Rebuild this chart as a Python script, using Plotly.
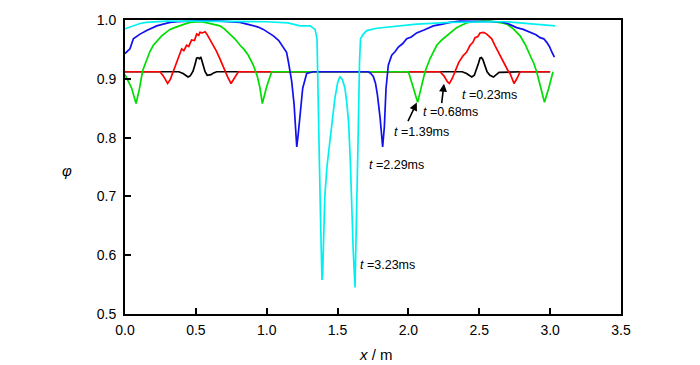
import plotly.graph_objects as go

# ---------------- data ----------------
x_023 = [0.0, 0.38, 0.41, 0.43, 0.445, 0.46, 0.48, 0.495, 0.505, 0.515, 0.525, 0.535, 0.55, 0.565, 0.58, 0.595, 0.607, 0.625, 0.647, 0.80,
         2.38, 2.41, 2.43, 2.447, 2.465, 2.48, 2.495, 2.505, 2.515, 2.525, 2.54, 2.555, 2.575, 2.59, 2.60, 2.62, 2.64, 2.80, 3.0]
phi_023 = [0.912, 0.912, 0.909, 0.905, 0.903, 0.905, 0.913, 0.925, 0.935, 0.936, 0.934, 0.937, 0.925, 0.912, 0.906, 0.906, 0.907, 0.910, 0.912, 0.912,
           0.912, 0.909, 0.905, 0.903, 0.906, 0.915, 0.927, 0.935, 0.936, 0.933, 0.924, 0.912, 0.906, 0.904, 0.903, 0.907, 0.911, 0.912, 0.912]

x_068 = [0.0, 0.247, 0.27, 0.29, 0.301, 0.32, 0.341, 0.36, 0.376, 0.39, 0.40, 0.415, 0.435, 0.45, 0.47, 0.49, 0.506, 0.52, 0.529, 0.545, 0.565, 0.578, 0.588, 0.605, 0.623, 0.645, 0.67, 0.69, 0.706, 0.725, 0.748, 0.77, 0.80,
         2.223, 2.25, 2.275, 2.289, 2.31, 2.329, 2.355, 2.388, 2.41, 2.435, 2.455, 2.47, 2.49, 2.505, 2.53, 2.553, 2.57, 2.588, 2.61, 2.635, 2.66, 2.682, 2.70, 2.717, 2.745, 2.765, 2.788, 3.0]
phi_068 = [0.912, 0.912, 0.905, 0.895, 0.892, 0.899, 0.913, 0.925, 0.934, 0.942, 0.951, 0.948, 0.957, 0.955, 0.966, 0.965, 0.976, 0.974, 0.979, 0.978, 0.980, 0.976, 0.972, 0.964, 0.957, 0.947, 0.934, 0.922, 0.913, 0.903, 0.892, 0.901, 0.912,
           0.912, 0.905, 0.895, 0.892, 0.901, 0.913, 0.928, 0.940, 0.945, 0.957, 0.962, 0.970, 0.972, 0.978, 0.979, 0.976, 0.972, 0.968, 0.957, 0.945, 0.934, 0.923, 0.915, 0.909, 0.892, 0.900, 0.912, 0.912]

x_139 = [0.0, 0.025, 0.047, 0.078, 0.101, 0.125, 0.153, 0.175, 0.20, 0.23, 0.259, 0.29, 0.318, 0.35, 0.388, 0.42, 0.459, 0.50, 0.529, 0.565, 0.60, 0.635, 0.67, 0.705, 0.741, 0.775, 0.812, 0.84, 0.87, 0.906, 0.934, 0.952, 0.969, 0.985, 1.0, 1.035,
         2.0, 2.03, 2.065, 2.09, 2.117, 2.152, 2.175, 2.20, 2.235, 2.27, 2.30, 2.34, 2.375, 2.41, 2.45, 2.49, 2.53, 2.576, 2.62, 2.66, 2.694, 2.74, 2.788, 2.825, 2.858, 2.885, 2.905, 2.93, 2.96, 2.99, 3.02]
phi_139 = [0.907, 0.895, 0.884, 0.858, 0.882, 0.914, 0.934, 0.946, 0.957, 0.966, 0.973, 0.979, 0.984, 0.987, 0.991, 0.993, 0.996, 0.997, 0.997, 0.996, 0.994, 0.992, 0.990, 0.984, 0.976, 0.968, 0.957, 0.950, 0.940, 0.923, 0.904, 0.885, 0.858, 0.873, 0.887, 0.912,
           0.912, 0.888, 0.860, 0.885, 0.912, 0.934, 0.946, 0.957, 0.966, 0.973, 0.980, 0.987, 0.991, 0.995, 0.997, 0.998, 0.998, 0.998, 0.997, 0.995, 0.993, 0.985, 0.973, 0.958, 0.940, 0.926, 0.912, 0.890, 0.860, 0.884, 0.912]

x_229 = [0.0, 0.035, 0.059, 0.08, 0.106, 0.153, 0.19, 0.224, 0.27, 0.318, 0.37, 0.435, 0.55, 0.67, 0.75, 0.812, 0.86, 0.906, 0.94, 0.976, 1.01, 1.047, 1.085, 1.117, 1.14, 1.153, 1.165, 1.176, 1.193, 1.203, 1.212, 1.222, 1.235, 1.254, 1.282, 1.329,
         1.69, 1.717, 1.735, 1.752, 1.768, 1.781, 1.80, 1.818, 1.83, 1.842, 1.858, 1.882, 1.905, 1.929, 1.96, 1.988, 2.02, 2.058, 2.11, 2.176, 2.24, 2.294, 2.364, 2.458, 2.55, 2.647, 2.70, 2.764, 2.81, 2.858, 2.90, 2.929, 2.955, 2.976, 2.995, 3.011, 3.03]
phi_229 = [0.943, 0.951, 0.968, 0.972, 0.976, 0.982, 0.986, 0.990, 0.993, 0.996, 0.997, 0.998, 0.999, 0.998, 0.997, 0.996, 0.993, 0.990, 0.988, 0.984, 0.979, 0.973, 0.965, 0.954, 0.945, 0.929, 0.915, 0.896, 0.857, 0.815, 0.784, 0.805, 0.840, 0.884, 0.909, 0.912,
           0.912, 0.912, 0.909, 0.904, 0.892, 0.873, 0.834, 0.784, 0.818, 0.884, 0.923, 0.940, 0.946, 0.954, 0.960, 0.968, 0.971, 0.978, 0.983, 0.990, 0.993, 0.996, 0.998, 0.998, 0.998, 0.997, 0.994, 0.987, 0.984, 0.979, 0.975, 0.970, 0.968, 0.962, 0.955, 0.946, 0.937]

x_323 = [0.0, 0.024, 0.047, 0.075, 0.106, 0.15, 0.20, 0.30, 0.45, 0.60, 0.80, 1.00, 1.15, 1.235, 1.306, 1.33, 1.341, 1.355, 1.362, 1.37, 1.38, 1.39, 1.395, 1.40, 1.41, 1.425, 1.445, 1.46, 1.48, 1.50, 1.517, 1.535, 1.552, 1.565, 1.578, 1.59, 1.60, 1.61, 1.623, 1.635, 1.645, 1.655, 1.662, 1.682, 1.706, 1.776, 1.894, 2.058, 2.294, 2.45, 2.60, 2.694, 2.835, 2.929, 3.035]
phi_323 = [0.985, 0.987, 0.990, 0.992, 0.994, 0.996, 0.997, 0.998, 0.998, 0.998, 0.998, 0.997, 0.995, 0.990, 0.990, 0.986, 0.984, 0.968, 0.90, 0.78, 0.66, 0.558, 0.57, 0.62, 0.70, 0.75, 0.795, 0.825, 0.865, 0.893, 0.904, 0.898, 0.884, 0.860, 0.825, 0.76, 0.68, 0.61, 0.545, 0.66, 0.80, 0.93, 0.968, 0.976, 0.982, 0.986, 0.989, 0.993, 0.996, 0.997, 0.997, 0.997, 0.994, 0.993, 0.990]

series = [
    ("t=0.23ms", x_023, phi_023, "#000000"),
    ("t=0.68ms", x_068, phi_068, "#ff0000"),
    ("t=1.39ms", x_139, phi_139, "#00dd00"),
    ("t=2.29ms", x_229, phi_229, "#1010f0"),
    ("t=3.23ms", x_323, phi_323, "#00f0f0"),
]

label_texts = ["<i>t</i> =0.23ms", "<i>t</i> =0.68ms", "<i>t</i> =1.39ms", "<i>t</i> =2.29ms", "<i>t</i> =3.23ms"]
label_x = [2.569, 2.30, 2.089, 1.913, 1.849]
label_y = [0.873, 0.843, 0.81, 0.753, 0.583]

x_ticks = [0.0, 0.5, 1.0, 1.5, 2.0, 2.5, 3.0, 3.5]
y_ticks = [0.5, 0.6, 0.7, 0.8, 0.9, 1.0]

fig = go.Figure()
for name, xs, ys, col in series:
    fig.add_trace(go.Scatter(x=xs, y=ys, mode="lines", name=name,
                             line=dict(color=col, width=1.7), showlegend=False))

FONT = "Liberation Sans, Arial, sans-serif"
annotations = []
for t, xx, yy in zip(label_texts, label_x, label_y):
    annotations.append(dict(x=xx, y=yy, xref="x", yref="y", text=t, showarrow=False,
                            xanchor="center", yanchor="middle",
                            font=dict(family=FONT, size=12.5, color="black")))
# arrows for t=1.39ms and t=0.68ms
annotations.append(dict(x=2.059, y=0.8595, xref="x", yref="y", text="", showarrow=True,
                        ax=-9.5, ay=20, arrowhead=2, arrowsize=1, arrowwidth=1.6, arrowcolor="black"))
annotations.append(dict(x=2.251, y=0.8917, xref="x", yref="y", text="", showarrow=True,
                        ax=-2.5, ay=21, arrowhead=2, arrowsize=1, arrowwidth=1.6, arrowcolor="black"))
# axis titles
annotations.append(dict(x=-0.117, y=0.487, xref="paper", yref="paper", text="<i>φ</i>",
                        xanchor="center", yanchor="middle",
                        showarrow=False, font=dict(family=FONT, size=15, color="black")))
annotations.append(dict(x=0.506, y=-0.137, xref="paper", yref="paper", text="<i>x</i> / m",
                        xanchor="center", yanchor="middle",
                        showarrow=False, font=dict(family=FONT, size=15, color="black")))

axis_common = dict(showline=True, linecolor="black", linewidth=2, mirror=True,
                   ticks="inside", ticklen=6, tickwidth=1.5, tickcolor="black",
                   showgrid=False, zeroline=False,
                   tickfont=dict(family=FONT, size=14, color="black"))

fig.update_layout(
    width=700, height=365,
    margin=dict(l=125, r=79, t=14, b=51),
    paper_bgcolor="white", plot_bgcolor="white",
    xaxis=dict(range=[0, 3.5], tickvals=x_ticks, tickformat=".1f", ticklabelstandoff=2, **axis_common),
    yaxis=dict(range=[0.5, 1.0], tickvals=y_ticks, tickformat=".1f", ticklabelstandoff=4, **axis_common),
    annotations=annotations,
)

fig.write_html("out.html", config={"displayModeBar": False},
               post_script="document.body.style.margin='0px';document.body.style.padding='0px';")
